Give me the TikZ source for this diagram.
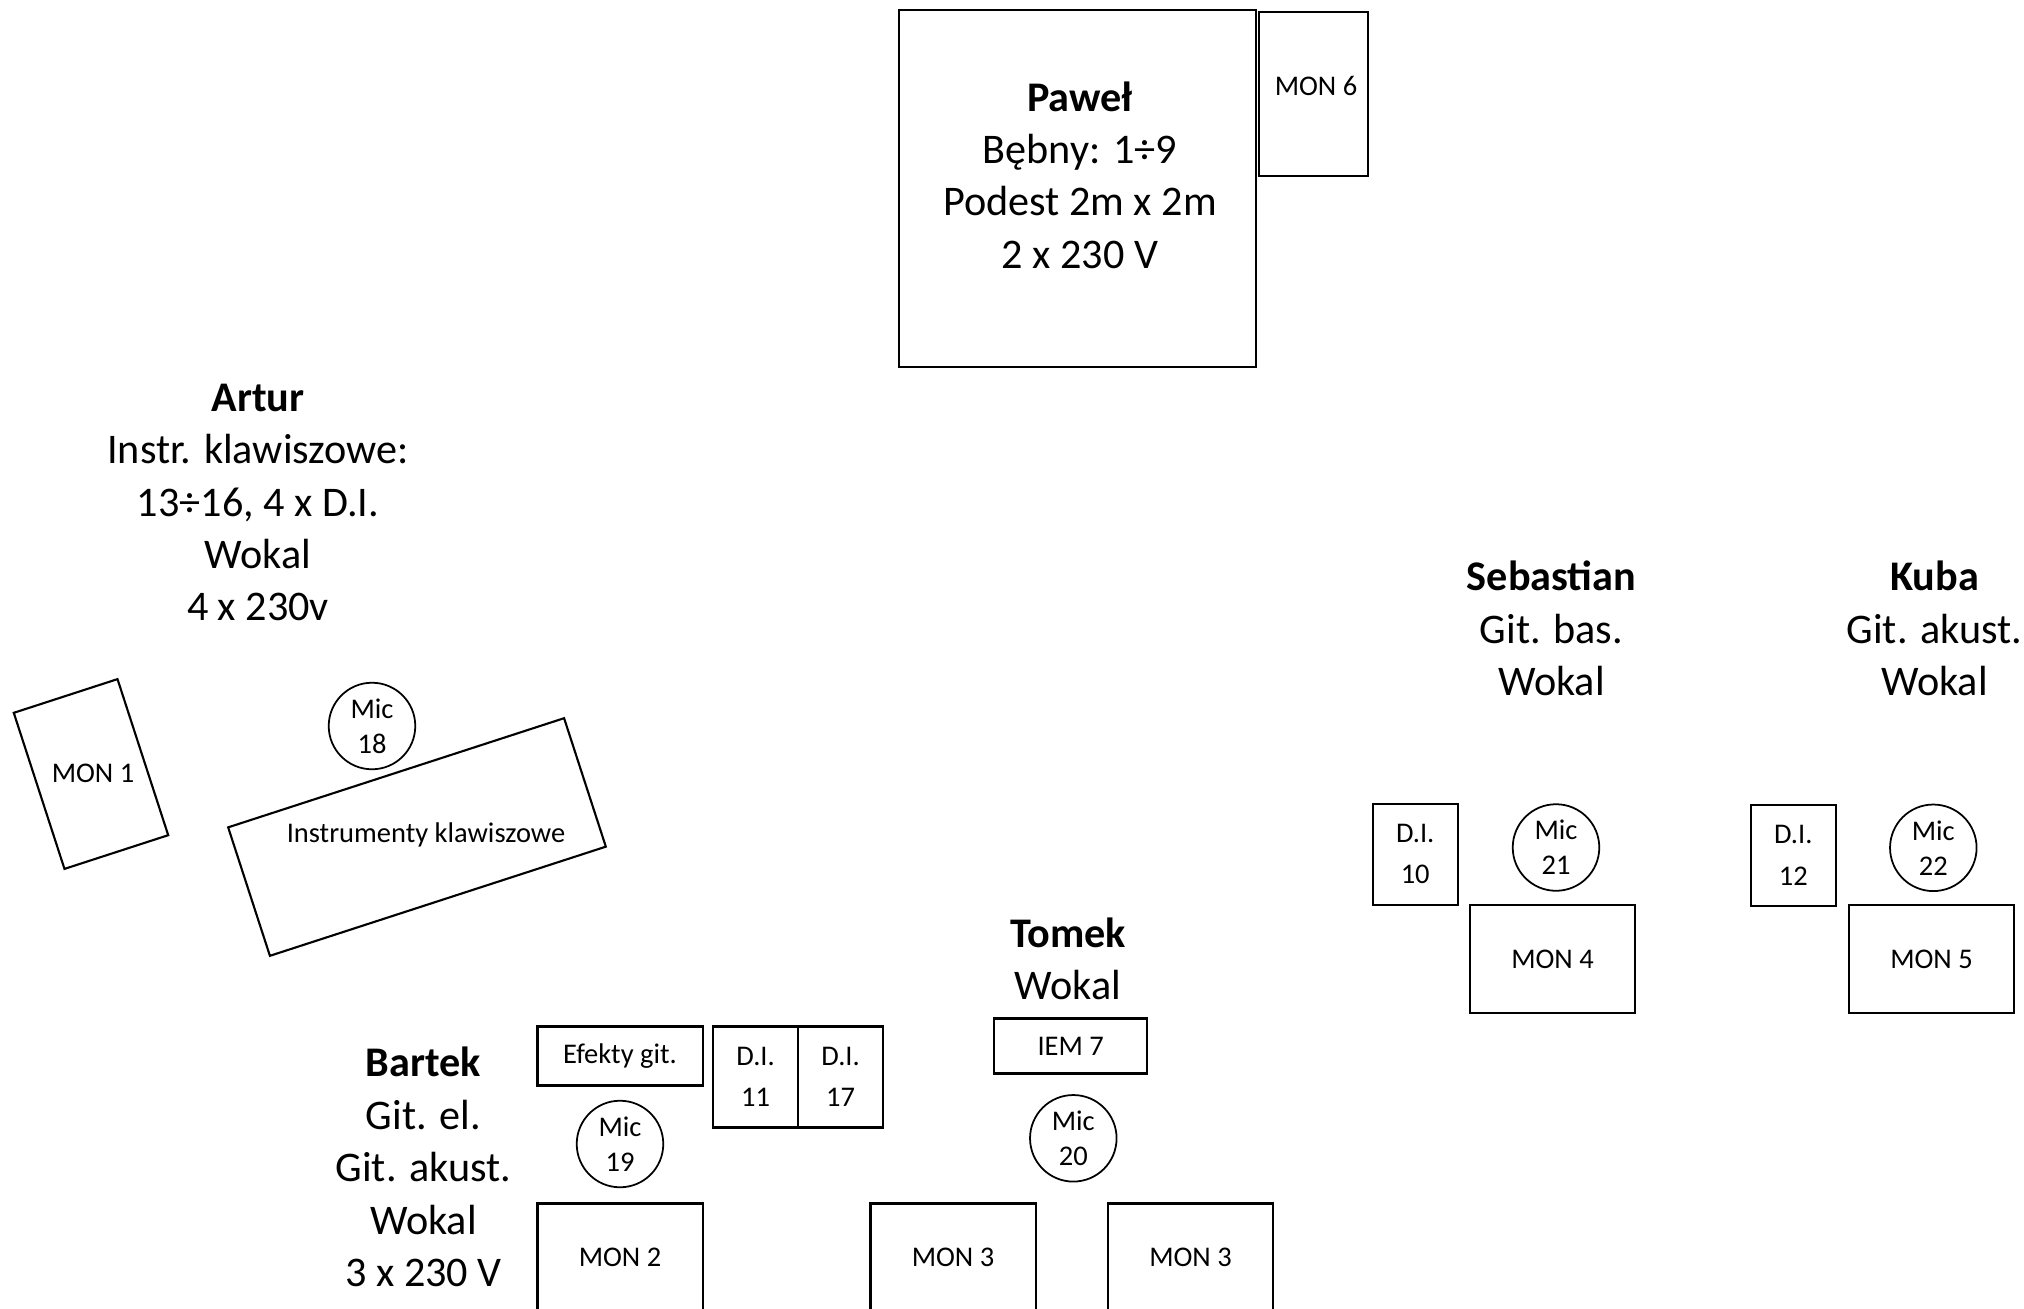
\documentclass[tikz,border=0pt]{standalone}
\usepackage{fontspec}
\setmainfont{Carlito}
\usetikzlibrary{positioning}

\newcommand{\bandfont}{\fontsize{12pt}{14.9pt}\selectfont}
\newcommand{\gearfont}{\fontsize{8.1pt}{10pt}\selectfont}
\newcommand{\difont}{\fontsize{8.1pt}{11.7pt}\selectfont}

\tikzset{
  person/.style={align=center, inner sep=0pt, font=\bandfont},
  gear/.style={draw, line width=0.6pt, inner sep=0pt, outer sep=0pt, align=center, font=\gearfont},
  monbox/.style={gear, minimum width=1.65cm, minimum height=1.08cm},
  monup/.style={gear, minimum width=1.09cm, minimum height=1.64cm},
  dibox/.style={gear, minimum width=0.85cm, minimum height=1.01cm, font=\difont},
  mic/.style={draw, circle, line width=0.5pt, minimum size=0.865cm, inner sep=0pt, align=center, font=\gearfont},
}

\begin{document}
\begin{tikzpicture}[x=0.01cm, y=-0.01cm]
  \clip (0,0) rectangle (2024,1309);

  % Pawel: drum riser and his monitor
  \node[gear, minimum width=3.57cm, minimum height=3.57cm] (riser) at (1077.5,188.5) {};
  \node[person] (pawel) at (1080,175) {\textbf{Paweł}\\Bębny: 1÷9\\Podest 2m x 2m\\2 x 230 V};
  \node[monup] (mon6) at (1313.5,94) {};
  \node[font=\gearfont] (mon6txt) at (1316,86) {MON 6};

  % Artur: keyboards, turned
  \node[person] (artur) at (258,502.5) {\textbf{Artur}\\Instr. klawiszowe:\\13÷16, 4 x D.I.\\Wokal\\4 x 230v};
  \node[monup, rotate=18] (mon1) at (91,774) {};
  \node[font=\gearfont] (mon1txt) at (93,773) {MON 1};
  \node[gear, rotate=18, minimum width=3.53cm, minimum height=1.35cm] (keys) at (417,837) {};
  \node[font=\gearfont] (keystxt) at (426,835) {Instrumenty klawiszowe};
  \node[mic] (mic18) at (372,726) {Mic\\18};

  % Bartek
  \node[person] (bartek) at (423.5,1167) {\textbf{Bartek}\\Git. el.\\Git. akust.\\Wokal\\3 x 230 V};
  \node[gear, minimum width=1.65cm, minimum height=0.59cm] (efx) at (620,1056) {Efekty git.};
  \node[dibox] (di11) at (755.6,1077) {D.I.\\11};
  \node[dibox, right=0pt of di11] (di17) {D.I.\\17};
  \node[mic] (mic19) at (620,1144) {Mic\\19};
  \node[monbox] (mon2) at (620,1257.5) {MON 2};

  % Tomek
  \node[person] (tomek) at (1068,959) {\textbf{Tomek}\\Wokal};
  \node[gear, minimum width=1.53cm, minimum height=0.55cm] (iem7) at (1070.7,1046) {IEM 7};
  \node[mic] (mic20) at (1073.3,1138.3) {Mic\\20};
  \node[monbox] (mon3a) at (953,1257.5) {MON 3};
  \node[monbox] (mon3b) at (1190.5,1257.5) {MON 3};

  % Sebastian
  \node[person] (sebastian) at (1551.5,628.5) {\textbf{Sebastian}\\Git. bas.\\Wokal};
  \node[dibox] (di10) at (1415.2,854.2) {D.I.\\10};
  \node[mic] (mic21) at (1556,847.5) {Mic\\21};
  \node[monbox] (mon4) at (1552.5,959.2) {MON 4};

  % Kuba
  \node[person] (kuba) at (1934.5,628.5) {\textbf{Kuba}\\Git. akust.\\Wokal};
  \node[dibox] (di12) at (1793.3,855.3) {D.I.\\12};
  \node[mic] (mic22) at (1933.3,847.8) {Mic\\22};
  \node[monbox] (mon5) at (1931.5,959.2) {MON 5};
\end{tikzpicture}
\end{document}
